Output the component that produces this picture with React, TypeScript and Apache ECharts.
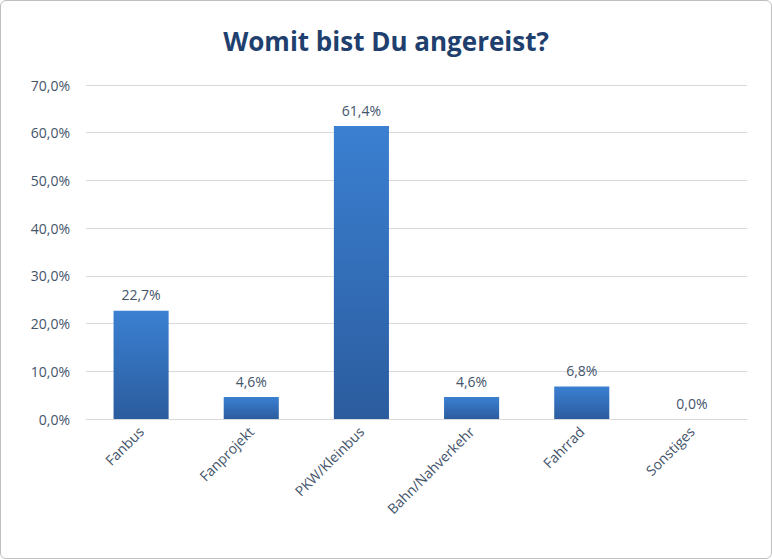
import React, { useEffect, useRef } from "react";
import * as echarts from "echarts";

const categories = ["Fanbus", "Fanprojekt", "PKW/Kleinbus", "Bahn/Nahverkehr", "Fahrrad", "Sonstiges"];
const values = [22.7, 4.6, 61.4, 4.6, 6.8, 0.0];

const fmt = (v: number) => v.toFixed(1).replace(".", ",") + "%";

export default function App() {
  const ref = useRef<HTMLDivElement>(null);
  useEffect(() => {
    document.body.style.margin = "0";
    const chart = echarts.init(ref.current!, null, { renderer: "svg" });
    chart.setOption({
      animation: false,
      textStyle: { fontFamily: "Open Sans, Calibri, sans-serif" },
      title: {
        text: "Womit bist Du angereist?",
        left: "center",
        top: 22,
        textStyle: { color: "#1f3f6e", fontSize: 26, fontWeight: "bold", fontFamily: "Open Sans" },
      },
      grid: { left: 85, right: 24, top: 84, bottom: 139 },
      xAxis: {
        type: "category",
        data: categories,
        axisTick: { show: false },
        axisLine: { lineStyle: { color: "#d9d9d9" } },
        axisLabel: { rotate: 45, color: "#44546a", fontSize: 14, interval: 0, margin: 10 },
      },
      yAxis: {
        type: "value",
        min: 0,
        max: 70,
        interval: 10,
        axisLabel: { formatter: (v: number) => fmt(v), color: "#44546a", fontSize: 14, margin: 16 },
        splitLine: { lineStyle: { color: "#d9d9d9" } },
      },
      series: [
        {
          type: "bar",
          data: values,
          barWidth: "50%",
          itemStyle: {
            color: new echarts.graphic.LinearGradient(0, 0, 0, 1, [
              { offset: 0, color: "#3b80d2" },
              { offset: 1, color: "#2b5c9e" },
            ]),
          },
          label: {
            show: true,
            position: "top",
            distance: 9,
            formatter: (p: any) => fmt(p.value),
            color: "#44546a",
            fontSize: 14,
          },
        },
      ],
    });
    return () => chart.dispose();
  }, []);
  return (
    <div
      ref={ref}
      style={{ width: 770, height: 557, border: "1px solid #bfbfbf", borderRadius: 6, background: "#fff" }}
    />
  );
}
